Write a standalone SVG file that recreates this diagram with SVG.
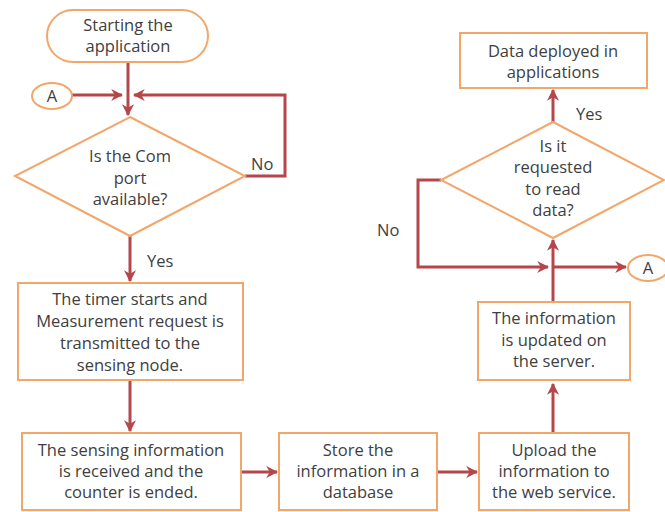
<svg xmlns="http://www.w3.org/2000/svg" width="665" height="512" viewBox="0 0 665 512">
<defs>
<style>
.n{fill:#fff;stroke:#F2A66A;stroke-width:2}
.t{font-family:"Open Sans","DejaVu Sans",sans-serif;font-size:16.5px;fill:#404040;text-anchor:middle}
.l{font-family:"Open Sans","DejaVu Sans",sans-serif;font-size:16.5px;fill:#404040}
.c{fill:none;stroke:#B5474B;stroke-width:3}
</style>
<marker id="ah" viewBox="0 0 10 10" refX="9" refY="5" markerWidth="4" markerHeight="4" orient="auto" markerUnits="strokeWidth">
<path d="M0,0 L10,5 L0,10 L3,5 Z" fill="#B5474B"/>
</marker>
</defs>
<rect width="665" height="512" fill="#fff"/>
<g id="connectors">
<path class="c" d="M128,62 V115" marker-end="url(#ah)"/>
<path class="c" d="M72,95 H122" marker-end="url(#ah)"/>
<path class="c" d="M245,176 H285 V95 H134" marker-end="url(#ah)"/>
<path class="c" d="M130,236 V281" marker-end="url(#ah)"/>
<path class="c" d="M130,380 V431" marker-end="url(#ah)"/>
<path class="c" d="M241,472 H277" marker-end="url(#ah)"/>
<path class="c" d="M437,472 H477" marker-end="url(#ah)"/>
<path class="c" d="M553,433 V384" marker-end="url(#ah)"/>
<path class="c" d="M553,302 V240" marker-end="url(#ah)"/>
<path class="c" d="M441,180 H418 V267 H548" marker-end="url(#ah)"/>
<path class="c" d="M553,267 H626" marker-end="url(#ah)"/>
<path class="c" d="M553,122 V90" marker-end="url(#ah)"/>
</g>
<g id="start">
<rect class="n" x="47" y="10" width="161" height="52" rx="26"/>
<text class="t" x="128" y="31">Starting the</text>
<text class="t" x="128" y="52">application</text>
</g>
<g id="connA1">
<ellipse class="n" cx="52" cy="96" rx="20" ry="13"/>
<text class="t" x="52" y="102">A</text>
</g>
<g id="dec1">
<polygon class="n" points="130,117 245,176 130,236 15,176"/>
<text class="t" x="130" y="162">Is the Com</text>
<text class="t" x="130" y="184">port</text>
<text class="t" x="130" y="205">available?</text>
</g>
<text class="l" x="251" y="170">No</text>
<text class="l" x="147" y="267">Yes</text>
<g id="timer">
<rect class="n" x="18" y="283" width="225" height="97"/>
<text class="t" x="130" y="305">The timer starts and</text>
<text class="t" x="130" y="327">Measurement request is</text>
<text class="t" x="130" y="349">transmitted to the</text>
<text class="t" x="130" y="371">sensing node.</text>
</g>
<g id="sensing">
<rect class="n" x="22" y="433" width="219" height="77"/>
<text class="t" x="131" y="456">The sensing information</text>
<text class="t" x="131" y="477">is received and the</text>
<text class="t" x="131" y="498">counter is ended.</text>
</g>
<g id="store">
<rect class="n" x="279" y="433" width="158" height="77"/>
<text class="t" x="358" y="456">Store the</text>
<text class="t" x="358" y="477">information in a</text>
<text class="t" x="358" y="498">database</text>
</g>
<g id="upload">
<rect class="n" x="479" y="433" width="150" height="77"/>
<text class="t" x="554" y="456">Upload the</text>
<text class="t" x="554" y="477">information to</text>
<text class="t" x="554" y="498">the web service.</text>
</g>
<g id="updated">
<rect class="n" x="478" y="302" width="152" height="78"/>
<text class="t" x="554" y="324">The information</text>
<text class="t" x="554" y="346">is updated on</text>
<text class="t" x="554" y="367">the server.</text>
</g>
<g id="connA2">
<ellipse class="n" cx="648" cy="268" rx="20" ry="13"/>
<text class="t" x="648" y="274">A</text>
</g>
<g id="dec2">
<polygon class="n" points="553,122 664,180 553,238 441,180"/>
<text class="t" x="553" y="152">Is it</text>
<text class="t" x="553" y="173">requested</text>
<text class="t" x="553" y="195">to read</text>
<text class="t" x="553" y="216">data?</text>
</g>
<text class="l" x="377" y="236">No</text>
<text class="l" x="576" y="120">Yes</text>
<g id="deployed">
<rect class="n" x="460" y="33" width="187" height="55"/>
<text class="t" x="553" y="57">Data deployed in</text>
<text class="t" x="553" y="78">applications</text>
</g>
</svg>
